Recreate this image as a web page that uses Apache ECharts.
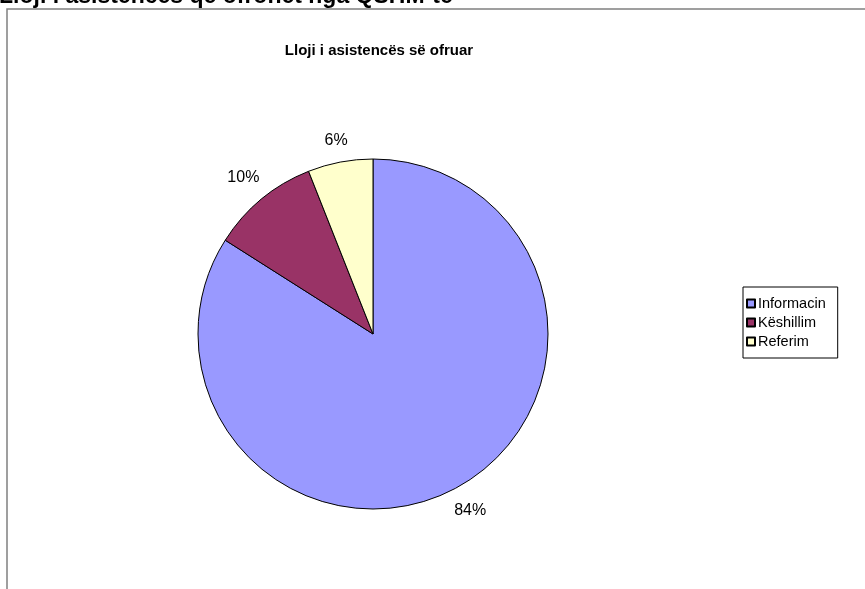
<!DOCTYPE html>
<html>
<head>
<meta charset="utf-8">
<script src="https://cdn.jsdelivr.net/npm/echarts@6/dist/echarts.min.js"></script>
<style>
html,body{margin:0;padding:0;background:#fff;}
#main{width:865px;height:589px;}
</style>
</head>
<body>
<div id="main"></div>
<script>
const categories = ['Informacin', 'Këshillim', 'Referim'];
const values = [84, 10, 6];
const colors = ['#9999FF', '#993366', '#FFFFCC'];
const heading = 'Lloji i asistencës që ofrohet nga QSHM-të';
const chartTitle = 'Lloji i asistencës së ofruar';

const FONT = '"Liberation Sans", Arial, sans-serif';
const CX = 373, CY = 334, R = 175, GAP = 12;
const total = values.reduce((a, b) => a + b, 0);

function midAngle(i) {
  let before = 0;
  for (let k = 0; k < i; k++) before += values[k];
  return ((before + values[i] / 2) / total) * Math.PI * 2;
}

const chart = echarts.init(document.getElementById('main'));
chart.setOption({
  animation: false,
  backgroundColor: '#fff',
  graphic: [
    {
      type: 'rect',
      shape: { x: 7, y: 9, width: 1000, height: 800 },
      style: { fill: 'none', stroke: '#808080', lineWidth: 1.5 },
      silent: true
    },
    {
      type: 'text',
      left: -1,
      top: -15,
      style: { text: heading, font: 'bold 23px ' + FONT, fill: '#000' },
      silent: true
    }
  ],
  title: {
    text: chartTitle,
    left: 374,
    top: 38,
    textAlign: 'center',
    textStyle: { fontFamily: FONT, fontWeight: 'bold', fontSize: 15, color: '#000' }
  },
  legend: {
    orient: 'vertical',
    left: 743,
    top: 287,
    data: categories,
    icon: 'rect',
    itemWidth: 8,
    itemHeight: 8,
    itemGap: 4,
    padding: [9, 12, 9, 3],
    borderColor: '#000',
    borderWidth: 1,
    textStyle: { fontFamily: FONT, fontSize: 14.5, color: '#000', padding: [0, 0, 0, -2] }
  },
  series: [{
    type: 'pie',
    center: [CX, CY],
    radius: R,
    startAngle: 90,
    clockwise: true,
    color: colors,
    itemStyle: { borderColor: '#000', borderWidth: 1 },
    emphasis: { disabled: true },
    label: {
      show: true,
      position: 'outside',
      formatter: '{d}%',
      fontFamily: FONT,
      fontSize: 16,
      color: '#000'
    },
    labelLine: { show: false },
    labelLayout: function (params) {
      const i = params.dataIndex;
      const a = midAngle(i);
      const sx = Math.sin(a), sy = -Math.cos(a);
      const w = params.labelRect.width, h = params.labelRect.height;
      const ext = Math.abs(sx) * w / 2 + Math.abs(sy) * h / 2;
      const d = R + GAP + ext;
      return {
        x: CX + sx * d,
        y: CY + sy * d,
        align: 'center',
        verticalAlign: 'middle'
      };
    },
    data: categories.map((c, i) => ({ name: c, value: values[i] }))
  }]
});
</script>
</body>
</html>
